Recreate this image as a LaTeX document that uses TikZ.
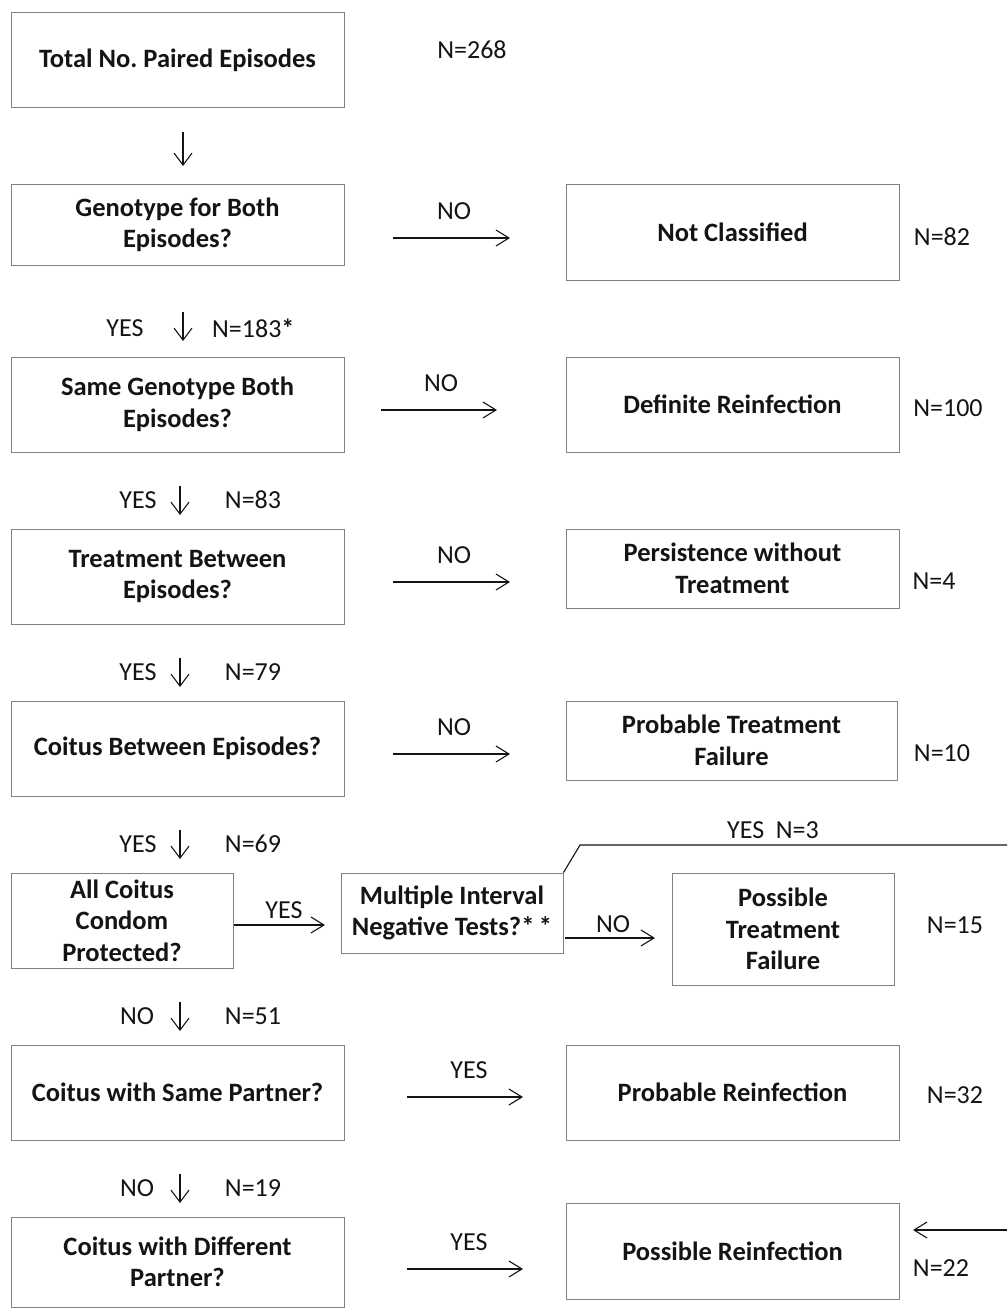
\documentclass[tikz,border=0pt]{standalone}
\usepackage{fontspec}
\setmainfont{Carlito}
\usetikzlibrary{arrows.meta}
\definecolor{boxline}{RGB}{128,128,128}
\definecolor{txt}{RGB}{20,20,20}
\frenchspacing
\tikzset{
  box/.style={draw=boxline, line width=1pt, align=center, inner sep=0pt,
    font=\fontsize{26.5}{31.5}\selectfont\bfseries, text=txt},
  lbl/.style={inner sep=0pt, font=\fontsize{26}{31.5}\selectfont, text=txt},
  arr/.style={draw=txt, line width=1.1pt, -{Straight Barb[length=13pt,width=16pt,line width=1.1pt]}},
  darr/.style={draw=txt, line width=1.1pt, -{Straight Barb[length=12pt,width=18pt,line width=1.1pt]}},
  conn/.style={draw=txt, line width=1.1pt}
}
\begin{document}
\begin{tikzpicture}[x=1pt,y=-1pt]
\useasboundingbox (0,0) rectangle (1007,1308);
% left column boxes
\node[box, minimum width=333pt, minimum height=95pt] (b1) at (177.5,60.5) {Total No. Paired Episodes};
\node[box, minimum width=333pt, minimum height=80pt] (b2) at (177.5,225) {Genotype for Both\\Episodes?};
\node[box, minimum width=333pt, minimum height=95pt] (b3) at (177.5,404.5) {Same Genotype Both\\Episodes?};
\node[box, minimum width=333pt, minimum height=95pt] (b4) at (177.5,576.5) {Treatment Between\\Episodes?};
\node[box, minimum width=333pt, minimum height=95pt] (b5) at (177.5,748.5) {Coitus Between Episodes?};
\node[box, minimum width=222pt, minimum height=95pt] (b6) at (122,920.5) {All Coitus\\Condom\\Protected?};
\node[box, minimum width=222pt, minimum height=80pt] (m6) at (452,913) {Multiple Interval\\Negative Tests?*\,*};
\node[box, minimum width=333pt, minimum height=95pt] (b7) at (177.5,1092.5) {Coitus with Same Partner?};
\node[box, minimum width=333pt, minimum height=90pt] (b8) at (177.5,1262) {Coitus with Different\\Partner?};
% right column boxes
\node[box, minimum width=333pt, minimum height=95pt] (r2) at (732.5,232.5) {Not Classified};
\node[box, minimum width=333pt, minimum height=95pt] (r3) at (732.5,404.5) {Definite Reinfection};
\node[box, minimum width=333pt, minimum height=79pt] (r4) at (732.5,568.5) {Persistence without\\Treatment};
\node[box, minimum width=331pt, minimum height=79pt] (r5) at (731.5,740.5) {Probable Treatment\\Failure};
\node[box, minimum width=222pt, minimum height=112pt] (r6) at (783,929) {Possible\\Treatment\\Failure};
\node[box, minimum width=333pt, minimum height=95pt] (r7) at (732.5,1092.5) {Probable Reinfection};
\node[box, minimum width=333pt, minimum height=96pt] (r8) at (732.5,1251) {Possible Reinfection};
% N counts on the right
\node[lbl] (n268) at (472,50) {N=268};
\node[lbl] (n82) at (942,237) {N=82};
\node[lbl] (n100) at (948,408) {N=100};
\node[lbl] (n4) at (934,581) {N=4};
\node[lbl] (n10) at (942,753) {N=10};
\node[lbl] (n15) at (955,925) {N=15};
\node[lbl] (n32) at (955,1095) {N=32};
\node[lbl] (n22) at (941,1268) {N=22};
% vertical arrows
\coordinate (d1a) at (183,132); \coordinate (d1b) at (183,166);
\draw[darr] (d1a) -- (d1b);
\coordinate (d2a) at (183,312); \coordinate (d2b) at (183,341);
\draw[darr] (d2a) -- (d2b);
\node[lbl] (y2) at (125,328) {YES};
\node[lbl, anchor=west] (n183) at (212,328) {N=183\textbf{*}};
\coordinate (d3a) at (180,486); \coordinate (d3b) at (180,515);
\draw[darr] (d3a) -- (d3b);
\node[lbl] (y3) at (138,500) {YES};
\node[lbl] (n83) at (253,500) {N=83};
\coordinate (d4a) at (180,658); \coordinate (d4b) at (180,687);
\draw[darr] (d4a) -- (d4b);
\node[lbl] (y4) at (138,672) {YES};
\node[lbl] (n79) at (253,672) {N=79};
\coordinate (d5a) at (180,830); \coordinate (d5b) at (180,859);
\draw[darr] (d5a) -- (d5b);
\node[lbl] (y5) at (138,844) {YES};
\node[lbl] (n69) at (253,844) {N=69};
\coordinate (d6a) at (180,1002); \coordinate (d6b) at (180,1031);
\draw[darr] (d6a) -- (d6b);
\node[lbl] (no6) at (137,1016) {NO};
\node[lbl] (n51) at (253,1016) {N=51};
\coordinate (d7a) at (180,1174); \coordinate (d7b) at (180,1203);
\draw[darr] (d7a) -- (d7b);
\node[lbl] (no7) at (137,1188) {NO};
\node[lbl] (n19) at (253,1188) {N=19};
% horizontal arrows
\coordinate (h2a) at (393,238); \coordinate (h2b) at (510,238);
\draw[arr] (h2a) -- (h2b);
\node[lbl] (no2) at (454,211) {NO};
\coordinate (h3a) at (381,410); \coordinate (h3b) at (497,410);
\draw[arr] (h3a) -- (h3b);
\node[lbl] (no3) at (441,383) {NO};
\coordinate (h4a) at (393,582); \coordinate (h4b) at (510,582);
\draw[arr] (h4a) -- (h4b);
\node[lbl] (no4) at (454,555) {NO};
\coordinate (h5a) at (393,754); \coordinate (h5b) at (510,754);
\draw[arr] (h5a) -- (h5b);
\node[lbl] (no5) at (454,727) {NO};
\coordinate (h6a) at (234,925); \coordinate (h6b) at (325,925);
\draw[arr] (h6a) -- (h6b);
\node[lbl] (yes6) at (284,910) {YES};
\coordinate (h6c) at (565,938); \coordinate (h6d) at (655,938);
\draw[arr] (h6c) -- (h6d);
\node[lbl] (no6b) at (613,924) {NO};
\coordinate (h7a) at (407,1097); \coordinate (h7b) at (523,1097);
\draw[arr] (h7a) -- (h7b);
\node[lbl] (yes7) at (469,1070) {YES};
\coordinate (h8a) at (407,1269); \coordinate (h8b) at (523,1269);
\draw[arr] (h8a) -- (h8b);
\node[lbl] (yes8) at (469,1242) {YES};
% YES N=3 branch
\coordinate (k1) at (580,845);
\coordinate (k2) at (1007,845);
\draw[conn] (m6.north east) -- (k1) -- (k2);
\node[lbl] (yes3) at (773,830) {YES\ \ N=3};
\coordinate (e1) at (1007,1230); \coordinate (e2) at (913,1230);
\draw[arr] (e1) -- (e2);
\end{tikzpicture}
\end{document}
